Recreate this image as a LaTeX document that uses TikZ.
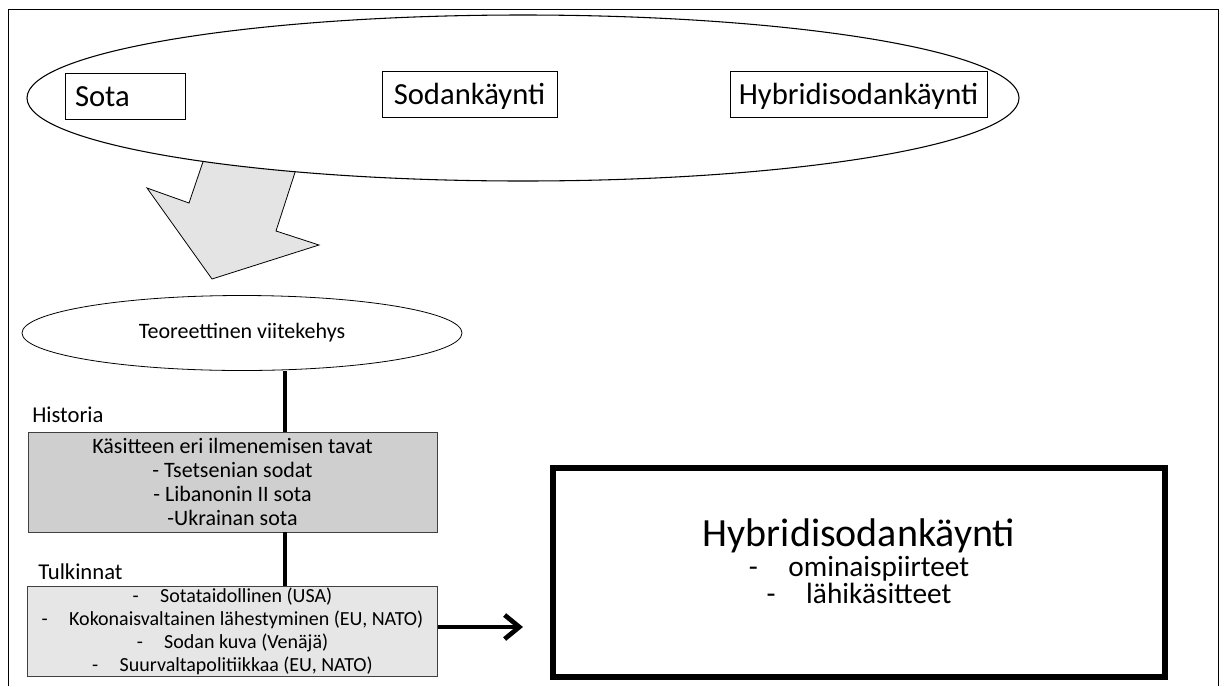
\documentclass[tikz,border=0pt]{standalone}
\usepackage{fontspec}
\setmainfont{Carlito}
\usetikzlibrary{arrows.meta,shapes.geometric}
\definecolor{histgray}{HTML}{CFCFCF}
\definecolor{tulkgray}{HTML}{E6E6E6}
\definecolor{arrowgray}{HTML}{E4E4E4}
\newcommand{\dashitem}[2][16pt]{-\hspace{#1}#2}
\begin{document}
\begin{tikzpicture}[x=0.75pt, y=-0.75pt,
    concept/.style={draw, line width=0.6pt, inner sep=0pt, minimum height=34.5pt,
      text height=17.5pt, text depth=1.5pt, font=\fontsize{23}{27}\selectfont},
    greybox/.style={draw=black!75, line width=0.6pt, inner sep=0pt, align=center},
    heading/.style={anchor=west, inner sep=0pt, font=\fontsize{17}{20}\selectfont},
    spine/.style={line width=3.5pt}]
  \useasboundingbox (0,0) rectangle (1226,686);
  \draw[line width=0.75pt] (8,686) -- (8,9) -- (1218,9) -- (1218,686);
  \draw[fill=arrowgray, line width=0.6pt]
    (207,150) -- (189,203) -- (147,188) -- (212,279) -- (319,245) -- (276,231) -- (299,160) -- cycle;
  \node[ellipse, draw, fill=white, line width=0.8pt, inner sep=0pt,
    minimum width=744pt, minimum height=124.5pt] (concepts) at (523,98) {};
  \node[concept, inner xsep=7.5pt, text width=75pt, align=left] (sota) at (125,96) {Sota};
  \node[concept, minimum width=131.25pt] (sodankaynti) at (469.5,94) {Sodankäynti};
  \node[concept, minimum width=192.75pt] (hybridi) at (858.5,94) {Hybridisodankäynti};
  \node[ellipse, draw, line width=0.6pt, inner sep=0pt, minimum width=330pt,
    minimum height=56.25pt, font=\fontsize{16.5}{19}\selectfont] (teoria) at (242,333)
    {Teoreettinen viitekehys};
  \node[heading] (historialabel) at (32,415) {Historia};
  \node[greybox, fill=histgray, minimum width=306.75pt, minimum height=75pt,
    font=\fontsize{16.5}{18}\selectfont] (historia) at (232.5,482)
    {Käsitteen eri ilmenemisen tavat\\- Tsetsenian sodat\\- Libanonin II sota\\-Ukrainan sota};
  \node[heading] (tulkinnatlabel) at (38,572) {Tulkinnat};
  \node[greybox, fill=tulkgray, minimum width=308pt, minimum height=67.5pt,
    font=\fontsize{15}{17.3}\selectfont] (tulkinnat) at (232.5,631)
    {\dashitem{Sotataidollinen (USA)}\\
     \dashitem{Kokonaisvaltainen lähestyminen (EU, NATO)}\\
     \dashitem{Sodan kuva (Venäjä)}\\
     \dashitem{Suurvaltapolitiikkaa (EU, NATO)}};
  \node[draw, line width=5pt, inner sep=0pt, minimum width=459pt, minimum height=156.75pt]
    (hybrid) at (859,572.5) {};
  \node[align=center, inner sep=0pt, font=\fontsize{22}{20.25}\selectfont] (hybridtext)
    at ([yshift=8.5pt]hybrid.center)
    {{\fontsize{30}{36}\selectfont Hybridisodankäynti}\\[2pt]
     \dashitem[23pt]{ominaispiirteet}\\
     \dashitem[23pt]{lähikäsitteet}};
  \coordinate (spinex) at (285,0);
  \draw[spine] (teoria.south -| spinex) -- (historia.north -| spinex);
  \draw[spine] (historia.south -| spinex) -- (tulkinnat.north -| spinex);
  \draw[line width=3.5pt, -{Straight Barb[length=11pt,width=18pt]}, shorten >=20pt]
    ([yshift=3pt]tulkinnat.east) -- ([yshift=3pt]tulkinnat.east -| hybrid.west);
\end{tikzpicture}
\end{document}
